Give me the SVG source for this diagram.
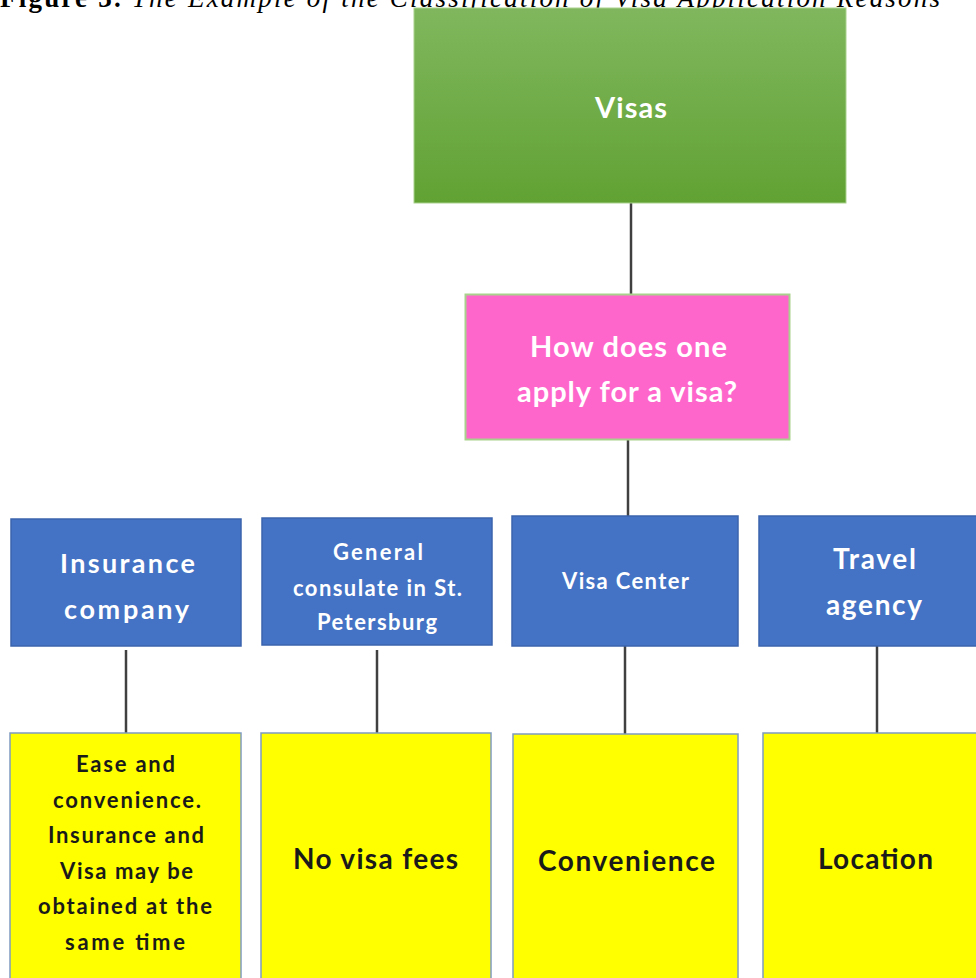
<svg xmlns="http://www.w3.org/2000/svg" width="976" height="978" viewBox="0 0 976 978">
<defs>
<linearGradient id="gGreen" x1="0" y1="0" x2="0" y2="1">
<stop offset="0" stop-color="#80b75e"/>
<stop offset="1" stop-color="#61a233"/>
</linearGradient>
<style>
.blue{fill:#4472c4;stroke:#3b64ad;stroke-width:1.5}
.yel{fill:#ffff00;stroke:#7f9bc0;stroke-width:1.5}
.wt{fill:#ffffff;font-family:Lato,"Open Sans","Liberation Sans",sans-serif;font-weight:bold;text-anchor:middle;dominant-baseline:central}
.bt{fill:#1a1a1a;font-family:Lato,"Open Sans","Liberation Sans",sans-serif;font-weight:bold;text-anchor:middle;dominant-baseline:central}
.con{stroke:#404040;stroke-width:2.5;fill:none}
</style>
</defs>
<rect width="976" height="978" fill="#ffffff"/>
<text x="0" y="7" font-family="'Liberation Serif',serif" font-size="27" fill="#000" textLength="940" lengthAdjust="spacing"><tspan font-weight="bold">Figure 3.</tspan><tspan font-style="italic"> The Example of the Classification of Visa Application Reasons</tspan></text>
<g id="connectors">
<line class="con" x1="631" y1="203" x2="631" y2="295"/>
<line class="con" x1="628" y1="440" x2="628" y2="516"/>
<line class="con" x1="126" y1="650" x2="126" y2="733"/>
<line class="con" x1="377" y1="650" x2="377" y2="733"/>
<line class="con" x1="625" y1="646" x2="625" y2="734"/>
<line class="con" x1="877" y1="646" x2="877" y2="733"/>
</g>
<g id="visas">
<rect x="414" y="8" width="432" height="195" fill="url(#gGreen)" stroke="#a9d18e" stroke-width="1"/>
<text class="wt" x="631" y="106" font-size="29" textLength="72" lengthAdjust="spacing">Visas</text>
</g>
<g id="apply">
<rect x="465.5" y="294.5" width="324" height="145" fill="#ff66cc" stroke="#a9d18e" stroke-width="2"/>
<text class="wt" x="628.5" y="345" font-size="29" textLength="197" lengthAdjust="spacing">How does one</text>
<text class="wt" x="627" y="390" font-size="29" textLength="220" lengthAdjust="spacing">apply for a visa?</text>
</g>
<g id="insurance">
<rect class="blue" x="11" y="519" width="230" height="127"/>
<text class="wt" x="127.5" y="562" font-size="27" textLength="135" lengthAdjust="spacing">Insurance</text>
<text class="wt" x="126.5" y="608" font-size="27" textLength="125" lengthAdjust="spacing">company</text>
</g>
<g id="consulate">
<rect class="blue" x="262" y="518" width="230" height="127"/>
<text class="wt" x="378" y="551" font-size="22" textLength="90" lengthAdjust="spacing">General</text>
<text class="wt" x="377.5" y="587" font-size="22" textLength="169" lengthAdjust="spacing">consulate in St.</text>
<text class="wt" x="377" y="621" font-size="22" textLength="120" lengthAdjust="spacing">Petersburg</text>
</g>
<g id="visacenter">
<rect class="blue" x="512" y="516" width="226" height="130"/>
<text class="wt" x="625.5" y="580" font-size="22" textLength="127" lengthAdjust="spacing">Visa Center</text>
</g>
<g id="travel">
<rect class="blue" x="759" y="516" width="232" height="130"/>
<text class="wt" x="874.5" y="558" font-size="28" textLength="83" lengthAdjust="spacing">Travel</text>
<text class="wt" x="874" y="604" font-size="28" textLength="96" lengthAdjust="spacing">agency</text>
</g>
<g id="ease">
<rect class="yel" x="10" y="733" width="231" height="250"/>
<text class="bt" x="125.5" y="763" font-size="22" textLength="99" lengthAdjust="spacing">Ease and</text>
<text class="bt" x="127" y="799" font-size="22" textLength="148" lengthAdjust="spacing">convenience.</text>
<text class="bt" x="126" y="834" font-size="22" textLength="156" lengthAdjust="spacing">Insurance and</text>
<text class="bt" x="126.5" y="870" font-size="22" textLength="133" lengthAdjust="spacing">Visa may be</text>
<text class="bt" x="125" y="905" font-size="22" textLength="174" lengthAdjust="spacing">obtained at the</text>
<text class="bt" x="125" y="941" font-size="22" textLength="120" lengthAdjust="spacing">same time</text>
</g>
<g id="nofees">
<rect class="yel" x="261" y="733" width="230" height="250"/>
<text class="bt" x="375.5" y="858" font-size="28" textLength="165" lengthAdjust="spacing">No visa fees</text>
</g>
<g id="convenience">
<rect class="yel" x="513" y="734" width="225" height="250"/>
<text class="bt" x="626.5" y="860" font-size="28" textLength="177" lengthAdjust="spacing">Convenience</text>
</g>
<g id="location">
<rect class="yel" x="763" y="733" width="228" height="250"/>
<text class="bt" x="875.5" y="858" font-size="28" textLength="115" lengthAdjust="spacing">Location</text>
</g>
</svg>
